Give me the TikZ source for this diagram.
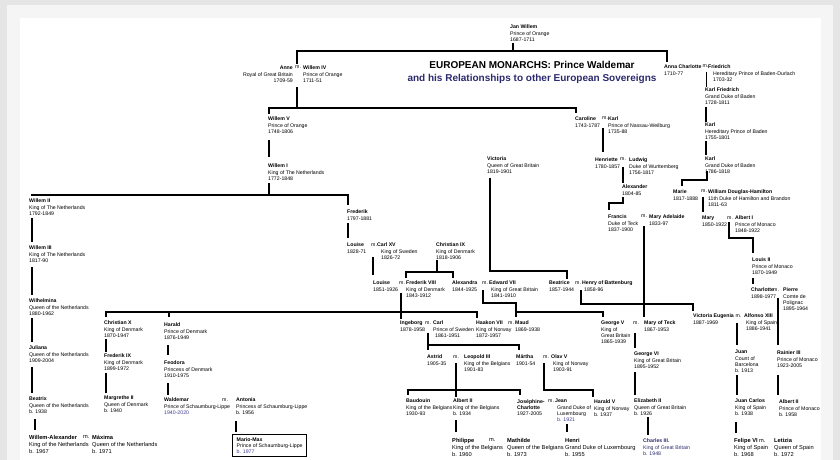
\documentclass[tikz,border=0pt]{standalone}
\usepackage{fontspec}
\setmainfont{Liberation Sans}
\definecolor{navy}{RGB}{43,42,110}
\definecolor{bluish}{RGB}{62,62,150}
\tikzset{
  pers/.style={anchor=north west,inner sep=0pt,align=left,font=\fontsize{5.2}{6.3}\selectfont},
  persbig/.style={pers,font=\fontsize{5.7}{7.2}\selectfont},
  kin/.style={line width=1.5pt},
}

\begin{document}
\begin{tikzpicture}[x=1pt,y=-1pt]

\fill[black!10] (0,0) rectangle (840,460);
\fill[black!4] (7,5) rectangle (833,460);
\fill[white] (20,18) rectangle (821,460);
\useasboundingbox (0,0) rectangle (840,460);

\node[font=\fontsize{10}{13}\bfseries\selectfont,align=center] (title) at (532,72)
  {EUROPEAN MONARCHS: Prince Waldemar\\\textcolor{navy}{and his Relationships to other European Sovereigns}};

% Orange and Baden
\node[pers] (janW) at (510,25) {\textbf{Jan Willem}\\Prince of Orange\\1687-1711};
\node[pers,anchor=north east,align=right] (anne) at (293,66) {\textbf{Anne}\\Royal of Great Britain\\1709-59};
\node[pers] (mAnne) at (295,66) {m.};
\node[pers] (willemIV) at (303,66) {\textbf{Willem IV}\\Prince of Orange\\1711-51};
\node[pers] (annaC) at (664,65) {\textbf{Anna Charlotte}\\1710-77};
\node[pers] (mAnnaC) at (702.5,65) {m.};
\node[pers] (friedrich) at (708,65) {\textbf{Friedrich}\\\hspace*{5pt}Hereditary Prince of Baden-Durlach\\\hspace*{5pt}1703-32};
\node[pers] (karlF) at (705,88) {\textbf{Karl Friedrich}\\Grand Duke of Baden\\1728-1811};
\node[pers] (karlHP) at (705,123) {\textbf{Karl}\\Hereditary Prince of Baden\\1755-1801};
\node[pers] (karlGD) at (705,157) {\textbf{Karl}\\Grand Duke of Baden\\1786-1818};
\node[pers] (marie) at (673,190) {\textbf{Marie}\\1817-1888};
\node[pers] (mMarie) at (701,190) {m.};
\node[pers] (williamDH) at (708,190) {\textbf{William Douglas-Hamilton}\\11th Duke of Hamilton and Brandon\\1811-63};
\node[pers] (mary) at (702,216) {\textbf{Mary}\\1850-1922};
\node[pers] (mMary) at (727,216) {m.};
\node[pers] (albertI) at (735,216) {\textbf{Albert I}\\Prince of Monaco\\1848-1922};
\node[pers] (louisII) at (752,258) {\textbf{Louis II}\\Prince of Monaco\\1870-1949};
\node[pers] (charlotte) at (751,288) {\textbf{Charlotte}\\1898-1977};
\node[pers] (mCharl) at (773,288) {m.};
\node[pers] (pierre) at (783,288) {\textbf{Pierre}\\Comte de\\Polignac\\1895-1964};
\node[pers] (rainier) at (777,351) {\textbf{Rainier III}\\Prince of Monaco\\1923-2005};
\node[pers] (albertMC) at (779,400) {\textbf{Albert II}\\Prince of Monaco\\b. 1958};

% Nassau and Teck
\node[pers] (caroline) at (575,117) {\textbf{Caroline}\\1743-1787};
\node[pers] (mCar) at (602,117) {m.};
\node[pers] (karlNW) at (608,117) {\textbf{Karl}\\Prince of Nassau-Weilburg\\1735-88};
\node[pers] (henriette) at (595,158) {\textbf{Henriette}\\1780-1857};
\node[pers] (mHen) at (620,158) {m.};
\node[pers] (ludwig) at (629,158) {\textbf{Ludwig}\\Duke of Wurttemberg\\1756-1817};
\node[pers] (alexander) at (622,185) {\textbf{Alexander}\\1804-85};
\node[pers] (francis) at (608,215) {\textbf{Francis}\\Duke of Teck\\1837-1900};
\node[pers] (mFran) at (641,215) {m.};
\node[pers] (maryAd) at (649,215) {\textbf{Mary Adelaide}\\1833-97};

% Netherlands
\node[pers] (willemV) at (268,117) {\textbf{Willem V}\\Prince of Orange\\1748-1806};
\node[pers] (willemI) at (268,164) {\textbf{Willem I}\\King of The Netherlands\\1772-1848};
\node[pers] (willemII) at (29,199) {\textbf{Willem II}\\King of The Netherlands\\1792-1849};
\node[pers] (willemIII) at (29,246) {\textbf{Willem III}\\King of The Netherlands\\1817-90};
\node[pers] (wilhelmina) at (29,299) {\textbf{Wilhelmina}\\Queen of the Netherlands\\1880-1962};
\node[pers] (juliana) at (29,346) {\textbf{Juliana}\\Queen of the Netherlands\\1909-2004};
\node[pers] (beatrix) at (29,397) {\textbf{Beatrix}\\Queen of the Netherlands\\b. 1938};
\node[persbig] (willemA) at (29,435) {\textbf{Willem-Alexander}\\King of the Netherlands\\b. 1967};
\node[persbig] (mWA) at (83,435) {m.};
\node[persbig] (maxima) at (92,435) {\textbf{Máxima}\\Queen of the Netherlands\\b. 1971};
\node[pers] (frederik) at (347,210) {\textbf{Frederik}\\1797-1881};
\node[pers] (louiseS) at (347,243) {\textbf{Louise}\\1828-71};
\node[pers] (mLouS) at (371,243) {m.};
\node[pers] (carlXV) at (377,243) {\textbf{Carl XV}\\\hspace*{4pt}King of Sweden\\\hspace*{4pt}1826-72};

% Denmark
\node[pers] (christianIX) at (436,243) {\textbf{Christian IX}\\King of Denmark\\1818-1906};
\node[pers] (louiseD) at (373,281) {\textbf{Louise}\\1851-1926};
\node[pers] (mLou) at (399,281) {m.};
\node[pers] (frederikVIII) at (406,281) {\textbf{Frederik VIII}\\King of Denmark\\1843-1912};
\node[pers] (alexandra) at (452,281) {\textbf{Alexandra}\\1844-1925};
\node[pers] (mAlex) at (482,281) {m.};
\node[pers] (edward) at (489,281) {\textbf{Edward VII}\\\hspace*{2pt}King of Great Britain\\\hspace*{2pt}1841-1910};
\node[pers] (victoria) at (487,157) {\textbf{Victoria}\\Queen of Great Britain\\1819-1901};
\node[pers] (beatrice) at (549,281) {\textbf{Beatrice}\\1857-1944};
\node[pers] (mBea) at (575,281) {m.};
\node[pers] (henry) at (582,281) {\textbf{Henry of Battenburg}\\\hspace*{2pt}1858-96};

\node[pers] (christianX) at (104,321) {\textbf{Christian X}\\King of Denmark\\1870-1947};
\node[pers] (frederikIX) at (104,354) {\textbf{Frederik IX}\\King of Denmark\\1899-1972};
\node[pers] (margrethe) at (104,396) {\textbf{Margrethe II}\\Queen of Denmark\\b. 1940};
\node[pers] (harald) at (164,323) {\textbf{Harald}\\Prince of Denmark\\1876-1949};
\node[pers] (feodora) at (164,361) {\textbf{Feodora}\\Princess of Denmark\\1910-1975};
\node[pers] (waldemar) at (164,398) {\textbf{Waldemar}\\Prince of Schaumburg-Lippe\\\textcolor{bluish}{1940-2020}};
\node[pers] (mWal) at (222,398) {m.};
\node[pers] (antonia) at (236,398) {\textbf{Antonia}\\Princess of Schaumburg-Lippe\\b. 1956};
\node[pers,draw,line width=1.3pt,minimum width=74pt,minimum height=22pt] (mario) at (232,434)
  {\textbf{Mario-Max}\\Prince of Schaumburg-Lippe\\\textcolor{bluish}{b. 1977}};

% Norway, Sweden, Belgium
\node[pers] (ingeborg) at (400,321) {\textbf{Ingeborg}\\1878-1958};
\node[pers] (mIng) at (425,321) {m.};
\node[pers] (carl) at (433,321) {\textbf{Carl}\\Prince of Sweden\\\hspace*{2pt}1861-1951};
\node[pers] (haakon) at (476,321) {\textbf{Haakon VII}\\King of Norway\\1872-1957};
\node[pers] (mHaa) at (508,321) {m.};
\node[pers] (maud) at (515,321) {\textbf{Maud}\\1869-1938};
\node[pers] (astrid) at (427,355) {\textbf{Astrid}\\1905-35};
\node[pers] (mAst) at (453,355) {m.};
\node[pers] (leopold) at (464,355) {\textbf{Leopold III}\\King of the Belgians\\1901-83};
\node[pers] (martha) at (516,355) {\textbf{Märtha}\\1901-54};
\node[pers] (mMar) at (543,355) {m.};
\node[pers] (olav) at (551,355) {\textbf{Olav V}\\\hspace*{2pt}King of Norway\\\hspace*{2pt}1903-91};
\node[pers] (baudouin) at (406,399) {\textbf{Baudouin}\\King of the Belgians\\1930-93};
\node[pers] (albertII) at (453,399) {\textbf{Albert II}\\King of the Belgians\\b. 1934};
\node[pers] (josephine) at (517,399) {\textbf{Joséphine-}\\\textbf{Charlotte}\\1927-2005};
\node[pers] (mJos) at (548,399) {m.};
\node[pers] (jean) at (555,399) {\textbf{Jean}\\\hspace*{2pt}Grand Duke of\\\hspace*{2pt}Luxembourg\\\hspace*{2pt}\textcolor{bluish}{b. 1921}};
\node[pers] (haraldV) at (594,400) {\textbf{Harald V}\\King of Norway\\b. 1937};
\node[persbig] (philippe) at (452,438) {\textbf{Philippe}\\King of the Belgians\\b. 1960};
\node[persbig] (mPhi) at (489,438) {m.};
\node[persbig] (mathilde) at (507,438) {\textbf{Mathilde}\\Queen of the Belgians\\b. 1973};
\node[persbig] (henri) at (565,438) {\textbf{Henri}\\Grand Duke of Luxembourg\\b. 1955};

% Britain and Spain
\node[pers] (georgeV) at (601,321) {\textbf{George V}\\King of\\Great Britain\\1865-1939};
\node[pers] (mGeo) at (633,321) {m.};
\node[pers] (maryT) at (644,321) {\textbf{Mary of Teck}\\1867-1953};
\node[pers] (georgeVI) at (634,352) {\textbf{George VI}\\King of Great Britain\\1895-1952};
\node[pers] (elizabeth) at (634,399) {\textbf{Elizabeth II}\\Queen of Great Britain\\b. 1926};
\node[pers,text=navy] (charles) at (643,439) {\textbf{Charles III.}\\King of Great Britain\\b. 1948};
\node[pers] (victoriaE) at (693,314) {\textbf{Victoria Eugenia}\\1887-1969};
\node[pers] (mVE) at (735.5,314) {m.};
\node[pers] (alfonso) at (744,314) {\textbf{Alfonso XIII}\\\hspace*{2pt}King of Spain\\\hspace*{2pt}1886-1941};
\node[pers] (juan) at (735,350) {\textbf{Juan}\\Count of\\Barcelona\\b. 1913};
\node[pers] (juanC) at (735,399) {\textbf{Juan Carlos}\\King of Spain\\b. 1938};
\node[persbig] (felipe) at (734,438) {\textbf{Felipe VI} m.\\King of Spain\\b. 1968};
\node[persbig] (letizia) at (774,438) {\textbf{Letizia}\\Queen of Spain\\b. 1972};

% descent lines
\draw[kin] ([shift={(3,18)}]janW.north west) -- ([shift={(3,26)}]janW.north west) -| ([shift={(2,-2)}]mAnne.north west);
\draw[kin] ([shift={(3,26)}]janW.north west) -| ([shift={(3,-3)}]annaC.north west);
\draw[kin] ([shift={(2,21)}]mAnne.north west) -- ([shift={(2,42)}]mAnne.north west) -| ([shift={(1,-3)}]willemV.north west);
\draw[kin] ([shift={(2,42)}]mAnne.north west) -| ([shift={(1,-4)}]caroline.north west);
\draw[kin] ([shift={(1,23)}]willemV.north west) -- ([shift={(1,-7)}]willemI.north west);
\draw[kin] ([shift={(1,19)}]willemI.north west) -- ([shift={(1,31)}]willemI.north west);
\draw[kin] ([shift={(2,-4)}]willemII.north west) -| ([shift={(1,-5)}]frederik.north west);

\draw[kin] ([shift={(3,19)}]willemII.north west) -- ([shift={(3,-4)}]willemIII.north west);
\draw[kin] ([shift={(3,21)}]willemIII.north west) -- ([shift={(3,-4)}]wilhelmina.north west);
\draw[kin] ([shift={(3,19)}]wilhelmina.north west) -- ([shift={(3,-4)}]juliana.north west);
\draw[kin] ([shift={(3,21)}]juliana.north west) -- ([shift={(3,-4)}]beatrix.north west);
\draw[kin] ([shift={(6,22)}]beatrix.north west) -- ([shift={(6,-5)}]willemA.north west);

\draw[kin] ([shift={(1,13)}]frederik.north west) -- ([shift={(1,-5)}]louiseS.north west);
\draw[kin] ([shift={(2,14)}]mLouS.north west) -- ([shift={(0,-6)}]louiseD.north west);
\draw[kin] ([shift={(1,17)}]christianIX.north west) -- ([shift={(1,29)}]christianIX.north west);
\draw[kin] ([shift={(0,-3)}]frederikVIII.north west) |- ([shift={(1,29)}]christianIX.north west) -| ([shift={(1,-3)}]alexandra.north west);

\draw[kin] ([shift={(2,12)}]mLou.north west) -- ([shift={(1,-2)}]ingeborg.north west);
\draw[kin] ([shift={(2,-4)}]christianX.north west) |- ([shift={(1,-9)}]haakon.north west) -- ([shift={(1,-3)}]haakon.north west);
\draw[kin] ([shift={(5,-11)}]harald.north west) -- ([shift={(5,-6)}]harald.north west);
\draw[kin] ([shift={(2,18)}]christianX.north west) -- ([shift={(2,-2)}]frederikIX.north west);
\draw[kin] ([shift={(2,19)}]frederikIX.north west) -- ([shift={(2,-3)}]margrethe.north west);
\draw[kin] ([shift={(4,22)}]harald.north west) -- ([shift={(4,-6)}]feodora.north west);
\draw[kin] ([shift={(4,22)}]feodora.north west) -- ([shift={(4,-3)}]waldemar.north west);
\draw[kin] ([shift={(0,23)}]antonia.north west) -- ([shift={(4,-2)}]mario.north west);

\draw[kin] ([shift={(3,12)}]mIng.north west) -- ([shift={(1,-5)}]astrid.north west);
\draw[kin] ([shift={(1,-10)}]astrid.north west) -| ([shift={(3,-5)}]martha.north west);
\draw[kin] ([shift={(1,9)}]mAlex.north west) |- ([shift={(1,-18)}]maud.north west) -- ([shift={(1,-4)}]maud.north west);
\draw[kin] ([shift={(1,-9)}]maud.north west) -| ([shift={(2,-4)}]georgeV.north west);
\draw[kin] ([shift={(3,21)}]victoria.north west) |- ([shift={(18,-10)}]beatrice.north west) -- ([shift={(18,-2)}]beatrice.north west);
\draw[kin] ([shift={(-1,9)}]henry.north west) |- ([shift={(0,-10)}]victoriaE.north west) -- ([shift={(0,-3)}]victoriaE.north west);
\draw[kin] ([shift={(3,11)}]mFran.north west) -- ([shift={(0,-4)}]maryT.north west);

\draw[kin] ([shift={(2,12)}]mGeo.north west) -- ([shift={(1,-4)}]georgeVI.north west);
\draw[kin] ([shift={(1,20)}]georgeVI.north west) -- ([shift={(1,-4)}]elizabeth.north west);
\draw[kin] ([shift={(14,18)}]elizabeth.north west) -- ([shift={(5,-4)}]charles.north west);
\draw[kin] ([shift={(1.5,9)}]mVE.north west) -- ([shift={(2,-5)}]juan.north west);
\draw[kin] ([shift={(2,25)}]juan.north west) -- ([shift={(2,-4)}]juanC.north west);
\draw[kin] ([shift={(1,23)}]juanC.north west) -- ([shift={(2,-5)}]felipe.north west);

\draw[kin] ([shift={(5,10)}]mCharl.north west) -- ([shift={(1,-6)}]rainier.north west);
\draw[kin] ([shift={(1,24)}]rainier.north west) -- ([shift={(-1,-5)}]albertMC.north west);
\draw[kin] ([shift={(2,6)}]mMary.north west) |- ([shift={(1,-20)}]louisII.north west) -- ([shift={(1,-5)}]louisII.north west);
\draw[kin] ([shift={(1,20)}]louisII.north west) -- ([shift={(2,-4)}]charlotte.north west);
\draw[kin] ([shift={(2,7)}]mMarie.north west) -- ([shift={(1,-4)}]mary.north west);
\draw[kin] ([shift={(2,14)}]karlGD.north west) |- ([shift={(9,-10)}]marie.north west) -- ([shift={(9,-4)}]marie.north west);
\draw[kin] ([shift={(-1.5,7)}]friedrich.north west) -- ([shift={(1.5,-1)}]karlF.north west);
\draw[kin] ([shift={(1,19)}]karlF.north west) -- ([shift={(1,-1)}]karlHP.north west);
\draw[kin] ([shift={(1,18)}]karlHP.north west) -- ([shift={(1,-2)}]karlGD.north west);

\draw[kin] ([shift={(1,11)}]mCar.north west) -- ([shift={(8,-6)}]henriette.north west);
\draw[kin] ([shift={(3,9)}]mHen.north west) -- ([shift={(1,-2)}]alexander.north west);
\draw[kin] ([shift={(1,12)}]alexander.north west) |- ([shift={(1,-12)}]francis.north west) -- ([shift={(1,-5)}]francis.north west);

\draw[kin] ([shift={(3,8)}]mAst.north west) -- ([shift={(3,-2)}]albertII.north west);
\draw[kin] ([shift={(2,-4)}]baudouin.north west) |- ([shift={(3,-9)}]josephine.north west) -- ([shift={(3,-4)}]josephine.north west);
\draw[kin] ([shift={(3,21)}]albertII.north west) -- ([shift={(4,-6)}]philippe.north west);
\draw[kin] ([shift={(1,8)}]mMar.north west) |- ([shift={(-1,-10)}]haraldV.north west) -- ([shift={(-1,-3)}]haraldV.north west);
\draw[kin] ([shift={(12,25)}]jean.north west) -- ([shift={(2,-6)}]henri.north west);

\end{tikzpicture}
\end{document}
